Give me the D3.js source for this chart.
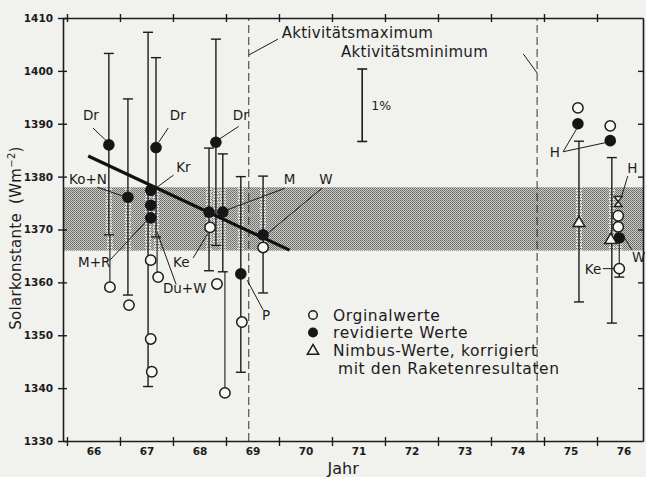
<!DOCTYPE html>
<html>
<head>
<meta charset="utf-8">
<script src="https://cdn.jsdelivr.net/npm/d3@7"></script>
<style>
  body { margin: 0; background: #f1f1ee; }
  text { font-family: 'DejaVu Sans', sans-serif; fill: #1c1c1c; }
</style>
</head>
<body>
<script>
// Solarkonstante: Orginalwerte, revidierte Werte, Nimbus-Werte

// revidierte Werte (gefüllte Kreise)
const revised = [
  { year: 1966.79, value: 1386.0 },
  { year: 1967.15, value: 1376.1 },
  { year: 1967.58, value: 1377.4 },
  { year: 1967.58, value: 1374.6 },
  { year: 1967.58, value: 1372.2 },
  { year: 1967.68, value: 1385.5 },
  { year: 1968.68, value: 1373.3 },
  { year: 1968.94, value: 1373.3 },
  { year: 1968.81, value: 1386.5 },
  { year: 1969.28, value: 1361.6 },
  { year: 1969.70, value: 1369.0 },
  { year: 1975.64, value: 1390.0 },
  { year: 1976.25, value: 1386.8 },
  { year: 1976.42, value: 1368.4 }
]

// Orginalwerte (offene Kreise)
const original = [
  { year: 1966.81, value: 1359.1 },
  { year: 1967.17, value: 1355.7 },
  { year: 1967.58, value: 1364.2 },
  { year: 1967.58, value: 1349.3 },
  { year: 1967.60, value: 1343.1 },
  { year: 1967.72, value: 1361.0 },
  { year: 1968.70, value: 1370.4 },
  { year: 1968.83, value: 1359.7 },
  { year: 1968.98, value: 1339.1 },
  { year: 1969.30, value: 1352.5 },
  { year: 1969.70, value: 1366.6 },
  { year: 1975.64, value: 1393.0 },
  { year: 1976.25, value: 1389.6 },
  { year: 1976.40, value: 1372.6 },
  { year: 1976.40, value: 1370.5 },
  { year: 1976.42, value: 1362.6 }
]

// Nimbus-Werte (Dreiecke)
const nimbus = [
  { year: 1975.66, value: 1371.4 },
  { year: 1976.26, value: 1368.2 }
]
const hourglass = [{ year: 1976.40, value: 1375.3 }]

// Fehlerbalken (mit Querstrichen)
const errorBars = [
  { year: 1966.79, lo: 1369.0, hi: 1403.3 },
  { year: 1967.15, lo: 1357.6, hi: 1394.7 },
  { year: 1967.53, lo: 1340.3, hi: 1407.3 },
  { year: 1967.68, lo: 1368.6, hi: 1402.5 },
  { year: 1968.68, lo: 1362.2, hi: 1385.4 },
  { year: 1968.94, lo: 1362.0, hi: 1384.3 },
  { year: 1968.81, lo: 1367.0, hi: 1406.0 },
  { year: 1969.28, lo: 1343.0, hi: 1380.0 },
  { year: 1969.70, lo: 1358.0, hi: 1380.1 },
  { year: 1975.66, lo: 1356.3, hi: 1386.7 },
  { year: 1976.28, lo: 1352.3, hi: 1383.6 },
  { year: 1976.42, lo: 1361.0, hi: 1362.6 }
]
// Verbindungslinien ohne Querstrich
const stems = [
  { year: 1966.81, lo: 1359.1, hi: 1369.0 },
  { year: 1967.70, lo: 1361.0, hi: 1368.6 },
  { year: 1968.98, lo: 1339.1, hi: 1362.0 },
  { year: 1976.42, lo: 1362.6, hi: 1368.4 }
]

const trend = [
  { year: 1966.40, value: 1383.9 },
  { year: 1970.20, value: 1366.1 }
]
const band = { lo: 1366.0, hi: 1378.0 }
const activity = [
  { year: 1969.43, text: 'Aktivitätsmaximum', tx: 1970.05, tv: 1406.2, from: [1969.98, 1406.0], to: [1969.43, 1403.0] },
  { year: 1974.87, text: 'Aktivitätsminimum', tx: 1971.17, tv: 1402.6, from: [1974.61, 1403.2], to: [1974.87, 1399.6] }
]

const yTicks = [1330, 1340, 1350, 1360, 1370, 1380, 1390, 1400, 1410]
const yearTicks = d3.range(1966, 1977)
const yearLabels = d3.range(1966, 1977).map(d => d + 0.5)

// Beschriftungen: Textposition und Hinweislinie in Datenkoordinaten
const labels = [
  { text: 'Dr', tx: 1966.30, tv: 1390.7, lines: [[1966.49, 1389.2, 1966.75, 1386.7]] },
  { text: 'Dr', tx: 1967.94, tv: 1390.7, lines: [[1967.91, 1389.2, 1967.73, 1386.5]] },
  { text: 'Dr', tx: 1969.13, tv: 1390.7, lines: [[1969.24, 1389.5, 1968.86, 1387.0]] },
  { text: 'Kr', tx: 1968.06, tv: 1380.9, lines: [[1968.01, 1380.3, 1967.70, 1378.0]] },
  { text: 'Ko+N', tx: 1966.04, tv: 1378.6, lines: [[1966.57, 1378.0, 1967.06, 1376.3]] },
  { text: 'M', tx: 1970.09, tv: 1378.6, lines: [[1970.11, 1377.8, 1969.02, 1373.7]] },
  { text: 'W', tx: 1970.76, tv: 1378.6, lines: [[1970.81, 1377.8, 1969.79, 1369.3]] },
  { text: 'M+R', tx: 1966.21, tv: 1362.9, lines: [[1966.81, 1364.2, 1967.50, 1371.6]] },
  { text: 'Du+W', tx: 1967.81, tv: 1358.0, lines: [[1968.06, 1359.6, 1967.70, 1369.5]] },
  { text: 'Ke', tx: 1968.0, tv: 1362.9, lines: [[1968.38, 1364.6, 1968.66, 1369.3]] },
  { text: 'P', tx: 1969.68, tv: 1352.9, lines: [[1969.70, 1354.8, 1969.40, 1360.4]] },
  { text: 'H', tx: 1975.11, tv: 1383.7, lines: [[1975.36, 1384.7, 1975.62, 1389.1], [1975.36, 1384.7, 1976.15, 1386.4]] },
  { text: 'H', tx: 1976.57, tv: 1380.7, lines: [[1976.58, 1380.1, 1976.46, 1376.1]] },
  { text: 'W', tx: 1976.66, tv: 1363.9, lines: [[1976.66, 1366.1, 1976.53, 1368.3]] },
  { text: 'Ke', tx: 1975.77, tv: 1361.6, lines: [[1976.11, 1362.6, 1976.34, 1362.6]] }
]

const width = 646
const height = 477
const ink = '#1c1c1c'

const svg = d3
  .select('body')
  .append('svg')
  .attr('width', width)
  .attr('height', height)

const x = d3.scaleLinear().domain([1965.925, 1976.868]).range([63, 643])
const y = d3.scaleLinear().domain([1330, 1410]).range([441, 18])

// Rasterfläche
const defs = svg.append('defs')
const pat = defs.append('pattern')
  .attr('id', 'screen')
  .attr('width', 2).attr('height', 2)
  .attr('patternUnits', 'userSpaceOnUse')
pat.append('rect').attr('width', 2).attr('height', 2).attr('fill', '#cdcdca')
pat.append('rect').attr('width', 1).attr('height', 1).attr('fill', '#666664')
pat.append('rect').attr('x', 1).attr('y', 1).attr('width', 1).attr('height', 1).attr('fill', '#787876')

defs.append('clipPath').attr('id', 'bandclip')
  .append('rect')
  .attr('x', x.range()[0]).attr('width', x.range()[1] - x.range()[0])
  .attr('y', y(band.hi)).attr('height', y(band.lo) - y(band.hi))

svg.append('rect')
  .attr('x', x.range()[0])
  .attr('width', x.range()[1] - x.range()[0])
  .attr('y', y(band.hi))
  .attr('height', y(band.lo) - y(band.hi))
  .attr('fill', 'url(#screen)')

// Aktivitätslinien
svg.append('g').selectAll('line').data(activity).join('line')
  .attr('x1', d => x(d.year)).attr('x2', d => x(d.year))
  .attr('y1', y(1330)).attr('y2', y(1410))
  .attr('stroke', '#333').attr('stroke-width', 1)
  .attr('stroke-dasharray', '8,4')

svg.append('g').selectAll('line').data(activity).join('line')
  .attr('x1', d => x(d.from[0])).attr('y1', d => y(d.from[1]))
  .attr('x2', d => x(d.to[0])).attr('y2', d => y(d.to[1]))
  .attr('stroke', ink).attr('stroke-width', 1)

svg.append('g').selectAll('text').data(activity).join('text')
  .attr('x', d => x(d.tx)).attr('y', d => y(d.tv))
  .style('font-size', '15px').style('letter-spacing', '0.3px')
  .text(d => d.text)

// 1% Massstab
const scaleBar = { year: 1971.57, top: 1400.35, len: 13.7 }
const sb = svg.append('g').attr('stroke', ink).attr('stroke-width', 1.6)
sb.append('line')
  .attr('x1', x(scaleBar.year)).attr('x2', x(scaleBar.year))
  .attr('y1', y(scaleBar.top)).attr('y2', y(scaleBar.top - scaleBar.len))
;[scaleBar.top, scaleBar.top - scaleBar.len].forEach(v => {
  sb.append('line')
    .attr('x1', x(scaleBar.year) - 5).attr('x2', x(scaleBar.year) + 5)
    .attr('y1', y(v)).attr('y2', y(v))
})
svg.append('text')
  .attr('x', x(scaleBar.year) + 9).attr('y', y(scaleBar.top - scaleBar.len / 2) + 5)
  .style('font-size', '12.5px')
  .text('1%')

// Halo der Fehlerbalken im Raster
svg.append('g').attr('clip-path', 'url(#bandclip)')
  .selectAll('line').data(errorBars.concat(stems)).join('line')
  .attr('x1', d => x(d.year)).attr('x2', d => x(d.year))
  .attr('y1', d => y(d.lo)).attr('y2', d => y(d.hi))
  .attr('stroke', '#e6e6e3').attr('stroke-width', 6)
  .attr('stroke-dasharray', '1.5,1.5')

// Fehlerbalken
const eb = svg.append('g').attr('stroke', ink).attr('stroke-width', 1.4)
eb.selectAll('line.v').data(errorBars).join('line')
  .attr('class', 'v')
  .attr('x1', d => x(d.year)).attr('x2', d => x(d.year))
  .attr('y1', d => y(d.lo)).attr('y2', d => y(d.hi))
eb.selectAll('line.lo').data(errorBars).join('line')
  .attr('class', 'lo')
  .attr('x1', d => x(d.year) - 5).attr('x2', d => x(d.year) + 5)
  .attr('y1', d => y(d.lo)).attr('y2', d => y(d.lo))
eb.selectAll('line.hi').data(errorBars).join('line')
  .attr('class', 'hi')
  .attr('x1', d => x(d.year) - 5).attr('x2', d => x(d.year) + 5)
  .attr('y1', d => y(d.hi)).attr('y2', d => y(d.hi))
eb.selectAll('line.stem').data(stems).join('line')
  .attr('class', 'stem')
  .attr('x1', d => x(d.year)).attr('x2', d => x(d.year))
  .attr('y1', d => y(d.lo)).attr('y2', d => y(d.hi))
  .attr('stroke-width', 1.1)

// Trendlinie
svg.append('path')
  .datum(trend)
  .attr('d', d3.line().x(d => x(d.year)).y(d => y(d.value)))
  .attr('stroke', '#111').attr('stroke-width', 3.2).attr('fill', 'none')

// Hinweislinien und Beschriftungen
const lab = svg.append('g')
lab.selectAll('line').data(labels.flatMap(d => d.lines)).join('line')
  .attr('x1', d => x(d[0])).attr('y1', d => y(d[1]))
  .attr('x2', d => x(d[2])).attr('y2', d => y(d[3]))
  .attr('stroke', ink).attr('stroke-width', 1)
lab.selectAll('text').data(labels).join('text')
  .attr('x', d => x(d.tx)).attr('y', d => y(d.tv))
  .style('font-size', '13.5px')
  .text(d => d.text)

// Punkte
svg.append('g').selectAll('circle').data(original).join('circle')
  .attr('cx', d => x(d.year)).attr('cy', d => y(d.value))
  .attr('r', 5.2)
  .attr('fill', '#f7f7f4').attr('stroke', ink).attr('stroke-width', 1.5)

svg.append('g').selectAll('circle').data(revised).join('circle')
  .attr('cx', d => x(d.year)).attr('cy', d => y(d.value))
  .attr('r', 5.8)
  .attr('fill', '#161616')

const tri = d3.symbol().type(d3.symbolTriangle).size(60)
svg.append('g').selectAll('path').data(nimbus).join('path')
  .attr('transform', d => `translate(${x(d.year)},${y(d.value) + 1})`)
  .attr('d', tri)
  .attr('fill', '#f7f7f4').attr('stroke', ink).attr('stroke-width', 1.5)

const hg = svg.append('g').selectAll('g').data(hourglass).join('g')
  .attr('transform', d => `translate(${x(d.year)},${y(d.value)})`)
hg.append('path').attr('d', 'M-4,-5 L4,-5 L0,0 Z')
  .attr('fill', '#f7f7f4').attr('stroke', ink).attr('stroke-width', 1.3)
hg.append('path').attr('d', 'M-4,5 L4,5 L0,0 Z')
  .attr('fill', '#f7f7f4').attr('stroke', ink).attr('stroke-width', 1.3)

// Achsen
const axisStyle = g => {
  g.select('.domain').attr('stroke', ink).attr('stroke-width', 1.6)
  g.selectAll('.tick line').attr('stroke', ink).attr('stroke-width', 1.4)
}

const axisL = svg.append('g').attr('transform', `translate(${x.range()[0]},0)`)
  .call(d3.axisLeft(y).tickValues(yTicks).tickFormat(d3.format('d')).tickSize(5).tickSizeOuter(0).tickPadding(3))
  .call(axisStyle)
axisL.selectAll('.tick line').attr('x2', 4).attr('x1', -5)
axisL.selectAll('.tick text')
  .style('font-size', '10.5px').style('font-weight', 'bold').attr('fill', '#333')
  .attr('font-family', 'DejaVu Sans').attr('dx', -2)

svg.append('g').attr('transform', `translate(${x.range()[1]},0)`)
  .call(d3.axisLeft(y).tickValues(yTicks.slice(1, -1)).tickSize(5).tickSizeOuter(0).tickFormat(''))
  .call(axisStyle)
  .selectAll('.tick line').attr('x1', 0).attr('x2', -5)

const axisB = svg.append('g').attr('transform', `translate(0,${y.range()[0]})`)
  .call(d3.axisBottom(x).tickValues(yearTicks).tickSize(5).tickSizeOuter(0).tickFormat(''))
  .call(axisStyle)
axisB.selectAll('.tick line').attr('y1', -4).attr('y2', 5)

svg.append('g').attr('transform', `translate(0,${y.range()[0]})`)
  .call(d3.axisBottom(x).tickValues(yearLabels).tickSize(0).tickPadding(7).tickFormat(d => String(Math.floor(d) % 100)))
  .call(g => g.select('.domain').remove())
  .selectAll('text')
  .style('font-size', '10.5px').style('font-weight', 'bold').attr('fill', '#333')
  .attr('font-family', 'DejaVu Sans')

const axisT = svg.append('g').attr('transform', `translate(0,${y.range()[1]})`)
  .call(d3.axisTop(x).tickValues(yearTicks).tickSize(5).tickSizeOuter(0).tickFormat(''))
  .call(axisStyle)
axisT.selectAll('.tick line').attr('y1', 4).attr('y2', -4)

// Achsentitel
svg.append('text')
  .attr('transform', 'translate(21,238) rotate(-90)')
  .attr('text-anchor', 'middle')
  .style('font-size', '15px').style('letter-spacing', '0.3px')
  .call(t => {
    t.append('tspan').text('Solarkonstante')
    t.append('tspan').attr('dx', 9).text('(Wm')
    t.append('tspan').attr('dy', -6).style('font-size', '10px').text('−2')
    t.append('tspan').attr('dy', 6).text(')')
  })

svg.append('text')
  .attr('x', x(1971.21)).attr('y', 474)
  .attr('text-anchor', 'middle')
  .style('font-size', '16px')
  .text('Jahr')

// Legende
const legend = [
  { kind: 'original', lines: ['Orginalwerte'] },
  { kind: 'revised', lines: ['revidierte Werte'] },
  { kind: 'nimbus', lines: ['Nimbus-Werte, korrigiert', 'mit den Raketenresultaten'] }
]
const lg = svg.append('g').attr('transform', 'translate(313,315)')
legend.forEach((d, i) => {
  const row = lg.append('g').attr('transform', `translate(0,${i * 17.5})`)
  if (d.kind === 'original') {
    row.append('circle').attr('r', 4.3).attr('fill', 'none').attr('stroke', ink).attr('stroke-width', 1.5)
  } else if (d.kind === 'revised') {
    row.append('circle').attr('r', 5).attr('fill', '#161616')
  } else {
    row.append('path').attr('d', d3.symbol().type(d3.symbolTriangle).size(55)).attr('transform', 'translate(0,1)')
      .attr('fill', 'none').attr('stroke', ink).attr('stroke-width', 1.5)
  }
  d.lines.forEach((l, j) => {
    row.append('text')
      .attr('x', j === 0 ? 20 : 25).attr('y', 5.5 + j * 18)
      .style('font-size', '15.5px').style('letter-spacing', '0.6px')
      .text(l)
  })
})
</script>
</body>
</html>
